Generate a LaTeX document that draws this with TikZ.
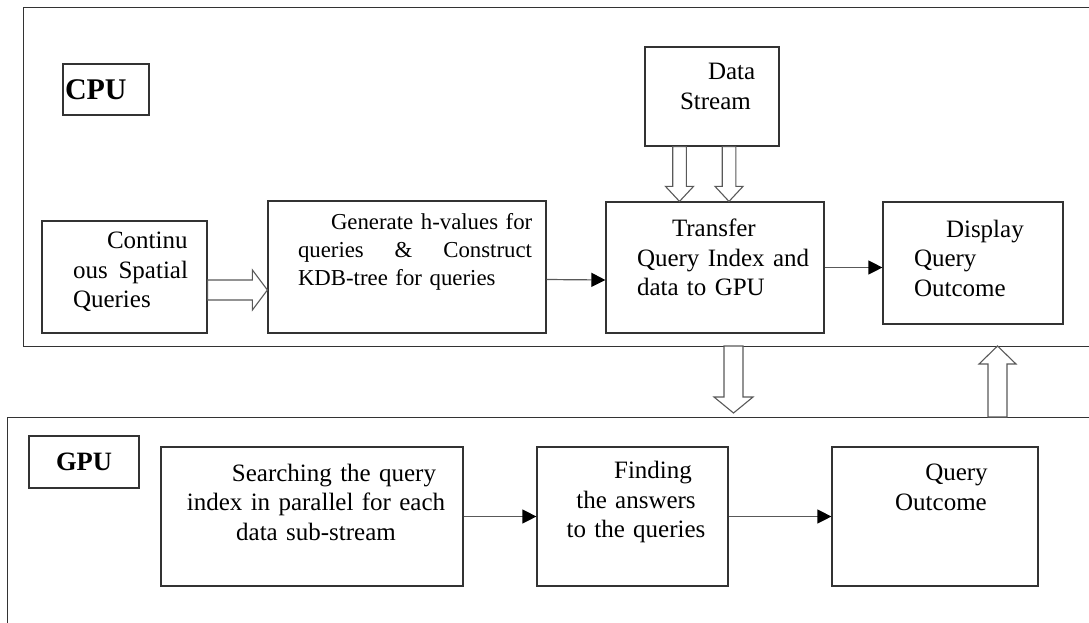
\documentclass[tikz,border=0pt]{standalone}
\usepackage{fontspec}
\setmainfont{Liberation Serif}
\usetikzlibrary{arrows.meta,calc,positioning}

\tikzset{
  box/.style={draw=black!80, line width=1.2pt, inner sep=0pt},
  frame/.style={draw=black!80, line width=1.2pt, inner sep=0pt, anchor=north west},
  txt/.style={inner sep=0pt, font=\fontsize{25}{29.5}\selectfont},
  link/.style={draw=black!65, line width=1.2pt,
    -{Triangle[length=14pt,width=14pt,color=black]}},
  % block arrow: shaft half width, head half width, head length
  hollow/.style n args={3}{draw=black!65, line width=1.1pt, fill=white,
    to path={-- ($(\tikztostart)!#1!90:(\tikztotarget)$)
      -- ($($(\tikztotarget)!#3!(\tikztostart)$)!#1!-90:(\tikztostart)$)
      -- ($($(\tikztotarget)!#3!(\tikztostart)$)!#2!-90:(\tikztostart)$)
      -- (\tikztotarget)
      -- ($($(\tikztotarget)!#3!(\tikztostart)$)!#2!90:(\tikztostart)$)
      -- ($($(\tikztotarget)!#3!(\tikztostart)$)!#1!90:(\tikztostart)$)
      -- ($(\tikztostart)!#1!-90:(\tikztotarget)$)
      -- cycle}},
}

\begin{document}
\begin{tikzpicture}[x=1pt, y=-1pt]
\useasboundingbox (0,0) rectangle (1089,622);
\clip (0,0) rectangle (1089,622);

% processor frames, both run off the page
\node[frame, minimum width=1100pt, minimum height=339pt] (cpu) at (23,7) {};
\node[frame, minimum width=1100pt, minimum height=300pt] (gpu) at (7,417) {};

\node[box, minimum width=86pt, minimum height=51pt, text width=82pt, align=left,
  font=\fontsize{30}{32}\selectfont\bfseries] (cpulabel) at (106,89.5) {\raisebox{-3pt}{CPU}};
\node[box, minimum width=110pt, minimum height=52pt,
  font=\fontsize{26.5}{28}\selectfont\bfseries] (gpulabel) at (84,462) {GPU};

% CPU side
\node[box, minimum width=165pt, minimum height=112pt] (queries) at (124.5,277) {};
\node[txt, text width=115pt, align=left] (queries-t) at (130.5,272)
  {\hspace*{34pt}Continu\\ ous\hfill Spatial\\ Queries};

\node[box, minimum width=278pt, minimum height=132pt] (hvalues) at (407,267) {};
\node[txt, text width=234pt, align=left, font=\fontsize{22.8}{28}\selectfont] (hvalues-t) at (415,252)
  {\hspace*{33pt}\mbox{Generate h-values for}\\ queries\hfill\&\hfill Construct\\ KDB-tree for queries};

\node[box, minimum width=134pt, minimum height=99pt] (stream) at (712,96.5) {};
\node[txt, text width=80pt, align=left] (stream-t) at (720,86.5)
  {\hspace*{28pt}Data\\ Stream};

\node[box, minimum width=218pt, minimum height=131pt] (transfer) at (715,267.5) {};
\node[txt, text width=175pt, align=left] (transfer-t) at (724.5,257.5)
  {\hspace*{35pt}Transfer\\ Query Index and\\ data to GPU};

\node[box, minimum width=180pt, minimum height=122pt] (display) at (973,263) {};
\node[txt, text width=120pt, align=left] (display-t) at (974,258)
  {\hspace*{32pt}Display\\ Query\\ Outcome};

% GPU side
\node[box, minimum width=302pt, minimum height=139pt] (search) at (312,516.5) {};
\node[txt, text width=280pt, align=center] (search-t) at (316,502)
  {\hspace*{36pt}Searching the query\\ index in parallel for each\\ data sub-stream};

\node[box, minimum width=191pt, minimum height=139pt] (answers) at (632.5,516.5) {};
\node[txt, text width=180pt, align=center] (answers-t) at (636,502)
  {\hspace*{34pt}Finding\\ the answers\\ to the queries};

\node[box, minimum width=206pt, minimum height=139pt] (outcome) at (935,516.5) {};
\node[txt, text width=190pt, align=center] (outcome-t) at (941,487.5)
  {\hspace*{31pt}Query\\ Outcome};

% connectors
\draw[link] ([yshift=-12.5pt]hvalues.east) -- ([yshift=-12.5pt]transfer.west);
\draw[link] (transfer.east) -- (transfer.east -| display.west);
\draw[link] (search.east) -- (search.east -| answers.west);
\draw[link] (answers.east) -- (answers.east -| outcome.west);

\coordinate (q0) at ([yshift=-13pt]queries.east);
\coordinate (q1) at (q0 -| hvalues.west);
\draw[hollow={10pt}{20pt}{15pt}] (q0) to (q1);

\coordinate (s0) at ([xshift=-32.5pt]stream.south);
\coordinate (s1) at (s0 |- transfer.north);
\coordinate (s2) at ([xshift=17pt]stream.south);
\coordinate (s3) at (s2 |- transfer.north);
\draw[hollow={6.8pt}{14pt}{15pt}] (s0) to (s1);
\draw[hollow={6.8pt}{14pt}{15pt}] (s2) to (s3);

\coordinate (down0) at (733.5,346);
\coordinate (down1) at (733.5,413);
\draw[hollow={9.5pt}{19.5pt}{16pt}] (down0) to (down1);

\coordinate (up0) at (997.5,417);
\coordinate (up1) at (997.5,346);
\draw[hollow={9.5pt}{18.5pt}{18pt}] (up0) to (up1);
\end{tikzpicture}
\end{document}
